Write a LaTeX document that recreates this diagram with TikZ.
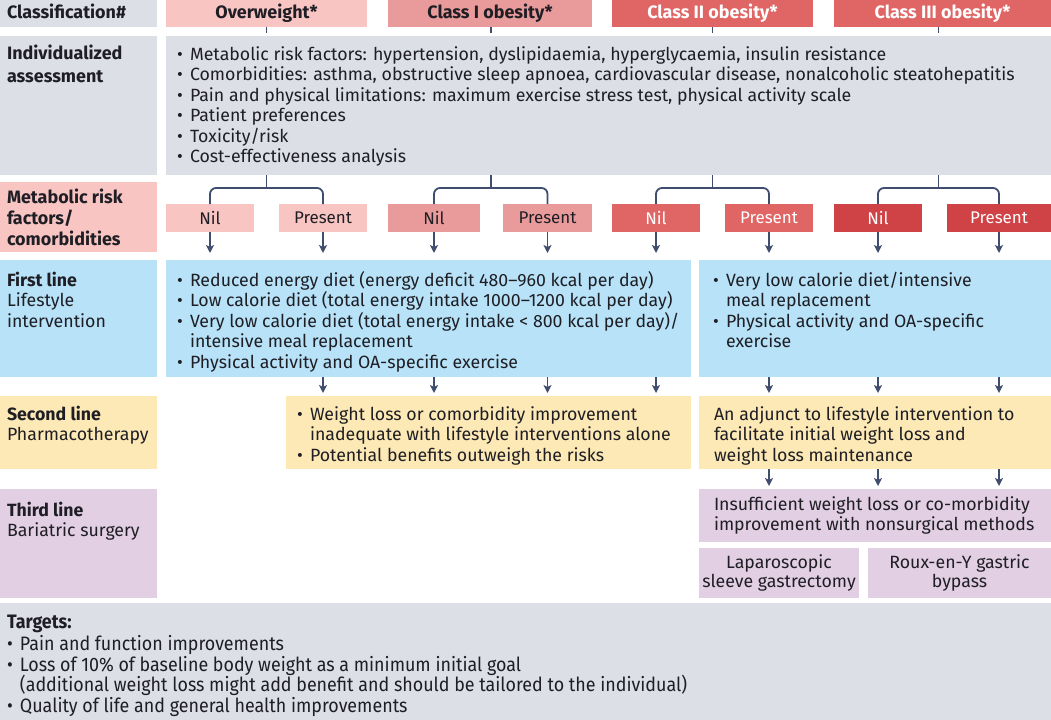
\documentclass[tikz,border=0pt]{standalone}
\usepackage{fontspec}
\setmainfont{Fira Sans}
\newfontfamily\condfont[FakeStretch=0.92]{Fira Sans}
\usetikzlibrary{arrows.meta,calc}
\definecolor{gry}{RGB}{220,223,230}
\definecolor{pinkA}{RGB}{248,197,195}
\definecolor{pinkB}{RGB}{233,155,155}
\definecolor{redC}{RGB}{224,102,102}
\definecolor{redD}{RGB}{207,67,70}
\definecolor{bluE}{RGB}{183,226,248}
\definecolor{yelF}{RGB}{253,233,181}
\definecolor{purG}{RGB}{227,207,228}
\definecolor{navy}{RGB}{63,77,110}
\definecolor{ink}{RGB}{30,30,36}
\newcommand{\fl}{\rule{0pt}{16bp}}
\newcommand{\bul}{\makebox[13bp][l]{\textbullet}}
\newcommand{\ind}{\hspace*{13bp}}
\tikzset{
  box/.style={draw=none, fill=#1, inner sep=0pt, outer sep=0pt, anchor=north west, text=ink, font=\fontsize{17}{20}\selectfont},
  hdr/.style={box=#1, minimum height=27bp, font=\bfseries\fontsize{18}{20}\selectfont},
  txt/.style={inner sep=0pt, outer sep=0pt, anchor=north west, align=left, text=ink, font=\fontsize{17.8}{20.6}\selectfont},
  lbl/.style={txt, font=\fontsize{17.8}{20.6}\selectfont},
  blbl/.style={txt, font=\bfseries\fontsize{18}{21.5}\selectfont},
  cond/.style={txt, font=\condfont\fontsize{19.5}{20.7}\selectfont},
  conn/.style={draw=navy, line width=1.8bp},
  arr/.style={conn, -{Stealth[length=8bp,width=8bp,inset=2bp]}},
}
\begin{document}
\begin{tikzpicture}[x=1bp,y=-1bp]
\useasboundingbox (0,0) rectangle (1051,720);
% label column
\node[box=gry, minimum width=157bp, minimum height=27bp] (l1) at (0,0) {};
\node[box=gry, minimum width=157bp, minimum height=139bp] (l2) at (0,36) {};
\node[box=pinkA, minimum width=157bp, minimum height=70bp] (l3) at (0,182) {};
\node[box=bluE, minimum width=157bp, minimum height=117bp] (l4) at (0,260) {};
\node[box=yelF, minimum width=157bp, minimum height=73bp] (l5) at (0,396) {};
\node[box=purG, minimum width=157bp, minimum height=109bp] (l6) at (0,489) {};
\node[box=gry, minimum width=1051bp, minimum height=117bp] (tg) at (0,603) {};
% headers
\node[hdr=pinkA, minimum width=201bp] (h1) at (166,0) {Overweight*};
\node[hdr=pinkB, minimum width=204bp] (h2) at (388,0) {Class I obesity*};
\node[hdr=redC, minimum width=201bp, text=white] (h3) at (612,0) {Class II obesity*};
\node[hdr=redC, minimum width=217bp, text=white] (h4) at (834,0) {Class III obesity*};
% assessment row
\node[box=gry, minimum width=885bp, minimum height=139bp] (r2) at (166,36) {};
% nil / present
\node[box=pinkA, minimum width=88bp, minimum height=28bp] (n1) at (166,204) {Nil};
\node[box=pinkA, minimum width=88bp, minimum height=28bp] (p1) at (279,204) {Present};
\node[box=pinkB, minimum width=92bp, minimum height=28bp] (n2) at (388,204) {Nil};
\node[box=pinkB, minimum width=89bp, minimum height=28bp] (p2) at (503,204) {Present};
\node[box=redC, minimum width=88bp, minimum height=28bp, text=white] (n3) at (612,204) {Nil};
\node[box=redC, minimum width=88bp, minimum height=28bp, text=white] (p3) at (725,204) {Present};
\node[box=redD, minimum width=88bp, minimum height=28bp, text=white] (n4) at (834,204) {Nil};
\node[box=redD, minimum width=104bp, minimum height=28bp, text=white] (p4) at (947,204) {Present};
% treatment boxes
\node[box=bluE, minimum width=525bp, minimum height=117bp] (A) at (166,260) {};
\node[box=bluE, minimum width=352bp, minimum height=117bp] (B) at (699,260) {};
\node[box=yelF, minimum width=405bp, minimum height=73bp] (C) at (286,396) {};
\node[box=yelF, minimum width=352bp, minimum height=73bp] (D) at (699,396) {};
\node[box=purG, minimum width=352bp, minimum height=53bp] (E) at (699,489) {};
\node[box=purG, minimum width=160bp, minimum height=50bp, align=center, font=\fontsize{17.8}{19.5}\selectfont] (F) at (699,548) {Laparoscopic\\sleeve gastrectomy};
\node[box=purG, minimum width=183bp, minimum height=50bp, align=center, font=\fontsize{17.8}{19.5}\selectfont] (G) at (868,548) {Roux-en-Y gastric\\bypass};
% texts
\node[blbl] (t1) at (7,3) {\fl Classification\#};
\node[blbl, font=\bfseries\fontsize{18}{22.5}\selectfont] (t2) at (7,44) {\fl Individualized\\assessment};
\node[blbl] (t3) at (7,187) {\fl Metabolic risk\\factors/\\comorbidities};
\node[lbl] (t4) at (7,270) {\fl\textbf{First line}\\Lifestyle\\intervention};
\node[lbl] (t5) at (7,404) {\fl\textbf{Second line}\\Pharmacotherapy};
\node[lbl] (t6) at (7,500) {\fl\textbf{Third line}\\Bariatric surgery};
\node[txt] (r2t) at (177,44) {\fl\bul Metabolic risk factors: hypertension, dyslipidaemia, hyperglycaemia, insulin resistance\\
\bul Comorbidities: asthma, obstructive sleep apnoea, cardiovascular disease, nonalcoholic steatohepatitis\\
\bul Pain and physical limitations: maximum exercise stress test, physical activity scale\\
\bul Patient preferences\\
\bul Toxicity/risk\\
\bul Cost-effectiveness analysis};
\node[txt] (At) at (177,270) {\fl\bul Reduced energy diet (energy deficit 480--960 kcal per day)\\
\bul Low calorie diet (total energy intake 1000--1200 kcal per day)\\
\bul Very low calorie diet (total energy intake < 800 kcal per day)/\\
\ind intensive meal replacement\\
\bul Physical activity and OA-specific exercise};
\node[txt] (Bt) at (713,270) {\fl\bul Very low calorie diet/intensive\\
\ind meal replacement\\
\bul Physical activity and OA-specific\\
\ind exercise};
\node[txt] (Ct) at (297,404) {\fl\bul Weight loss or comorbidity improvement\\
\ind inadequate with lifestyle interventions alone\\
\bul Potential benefits outweigh the risks};
\node[txt] (Dt) at (714,404) {\fl An adjunct to lifestyle intervention to\\
facilitate initial weight loss and\\
weight loss maintenance};
\node[txt] (Et) at (714,494) {\fl Insufficient weight loss or co-morbidity\\
improvement with nonsurgical methods};
\node[cond] (tgt) at (7,612) {\fl\textbf{Targets:}\\[2bp]
\bul Pain and function improvements\\
\bul Loss of 10\% of baseline body weight as a minimum initial goal\\
\ind (additional weight loss might add benefit and should be tailored to the individual)\\
\bul Quality of life and general health improvements};
% branch points
\path ($(n1.north)!0.5!(p1.north)$) ++(0,-16) coordinate (b1);
\path ($(n2.north)!0.5!(p2.north)$) ++(0,-16) coordinate (b2);
\path ($(n3.north)!0.5!(p3.north)$) ++(0,-16) coordinate (b3);
\path ($(n4.north)!0.5!(p4.north)$) ++(0,-16) coordinate (b4);
\foreach \h/\b/\n/\p in {h1/b1/n1/p1, h2/b2/n2/p2, h3/b3/n3/p3, h4/b4/n4/p4}{
  \draw[conn, shorten >=3bp] (\h.south -| \b) -- (r2.north -| \b);
  \draw[conn] (r2.south -| \b) -- (\b);
  \draw[conn, rounded corners=6bp] (\n.north) |- (\b) -| (\p.north);
}
% arrows to first line
\foreach \n/\t in {n1/A, p1/A, n2/A, p2/A, n3/A, p3/B, n4/B, p4/B}{
  \draw[arr, shorten >=7bp] (\n.south) -- (\t.north -| \n.south);
}
% first line to second line
\foreach \n/\s/\t in {p1/A/C, n2/A/C, p2/A/C, n3/A/C, p3/B/D, n4/B/D, p4/B/D}{
  \draw[arr, shorten >=3bp] (\s.south -| \n.south) -- (\t.north -| \n.south);
}
% second line to third line
\foreach \n in {p3, n4, p4}{
  \draw[arr, shorten >=3bp] (D.south -| \n.south) -- (E.north -| \n.south);
}
\end{tikzpicture}
\end{document}
